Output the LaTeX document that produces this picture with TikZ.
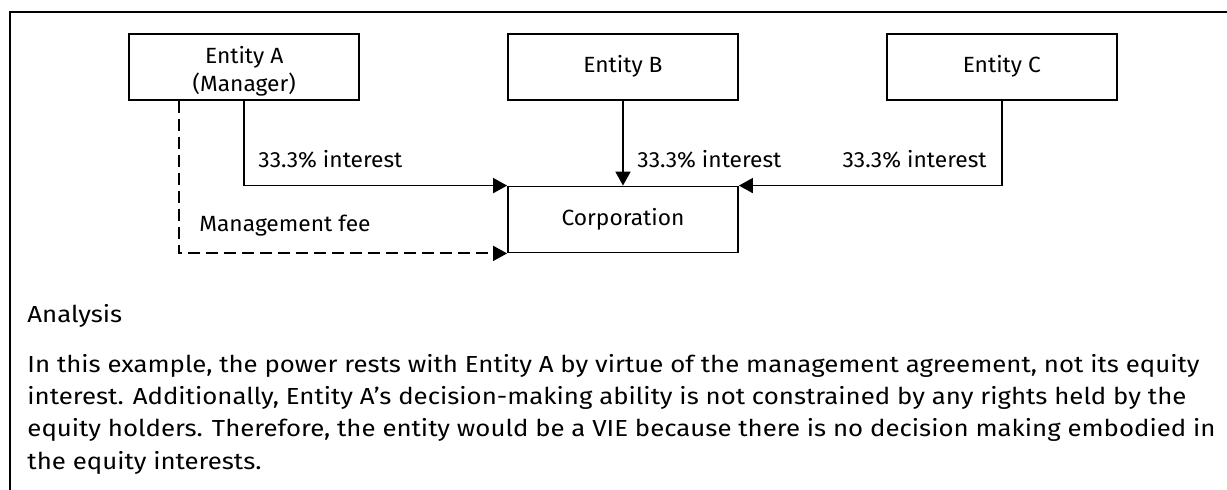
\documentclass[tikz,border=0pt]{standalone}
\usepackage{fontspec}
\setmainfont{Fira Sans}
\usepackage{graphicx}
\usetikzlibrary{arrows.meta,positioning}

\newcommand{\parafont}{\fontsize{11.6}{14.5}\selectfont}
\newcommand{\diagfont}{\fontsize{11}{14}\selectfont}
\newlength{\wpara}
\newlength{\wdiag}
\newcommand{\dtxt}[1]{\scalebox{\sxdiag}[1]{#1}}
% text widths of the scan
\AtBeginDocument{%
  \settowidth{\wpara}{\parafont In this example, the power rests with Entity A by virtue of the management agreement, not its equity}%
  \settowidth{\wdiag}{\diagfont 33.3\% interest}%
  \pgfmathsetmacro{\sxpara}{586/\wpara}%
  \pgfmathsetmacro{\sxdiag}{72/\wdiag}}

\begin{document}
\begin{tikzpicture}[
    x=0.5pt, y=-0.5pt,
    entity/.style={
    draw=black,
    line width=0.9pt,
    minimum width=115pt,
    minimum height=33pt,
    inner sep=0pt,
    font=\diagfont},
    myarrow/.style={-{Triangle[length=7pt,width=7.5pt]},line width=0.9pt},
    feearrow/.style={myarrow,dash pattern=on 6pt off 3pt},
    lbl/.style={inner sep=0pt,font=\diagfont},
    txt/.style={inner sep=0pt,align=left,font=\parafont},
    node distance=42.5pt and 73.5pt
    ]

    \useasboundingbox (0,0) rectangle (1227,490);
    \draw[line width=1pt] (1227,12) -- (10,12) -- (10,490);

    \node[entity] (corp) at (623,219.5) {\dtxt{Corporation}};
    \node[entity, above = of corp] (entB) {\dtxt{Entity B}};
    \node[entity, left = of entB] (entA) {\raisebox{-2.6pt}[\height][\depth]{\dtxt{\begin{tabular}{@{}c@{}}Entity A\\(Manager)\end{tabular}}}};
    \node[entity, right = of entB] (entC) {\dtxt{Entity C}};

    \draw[myarrow] (entA.south) |- (corp.north west);
    \draw[feearrow] ([xshift=-32.5pt]entA.south) |- (corp.south west);
    \draw[myarrow] (entB) -- (corp);
    \draw[myarrow] (entC.south) |- (corp.north east);

    \node[lbl, anchor=base west] (intA) at (258,168) {\dtxt{33.3\% interest}};
    \node[lbl, anchor=base west] (intB) at (637,168) {\dtxt{33.3\% interest}};
    \node[lbl, anchor=base east] (intC) at (987,168) {\dtxt{33.3\% interest}};
    \node[lbl, anchor=base west] (fee) at (199,232) {\dtxt{Management fee}};

    % analysis text
    \node[txt, anchor=base west] (head) at (27,323) {\scalebox{\sxpara}[1]{Analysis}};
    \begin{scope}[shift={(27,354)}, xscale=\sxpara]
    \node[txt, transform shape, anchor=north west] (body) at (0,0) {In this example, the power rests with Entity A by virtue of the management agreement, not its equity\\[1.6pt]
    interest. Additionally, Entity A’s decision-making ability is not constrained by any rights held by the\\[1.6pt]
    equity holders. Therefore, the entity would be a VIE because there is no decision making embodied in\\[1.6pt]
    the equity interests.};
    \end{scope}
\end{tikzpicture}
\end{document}
